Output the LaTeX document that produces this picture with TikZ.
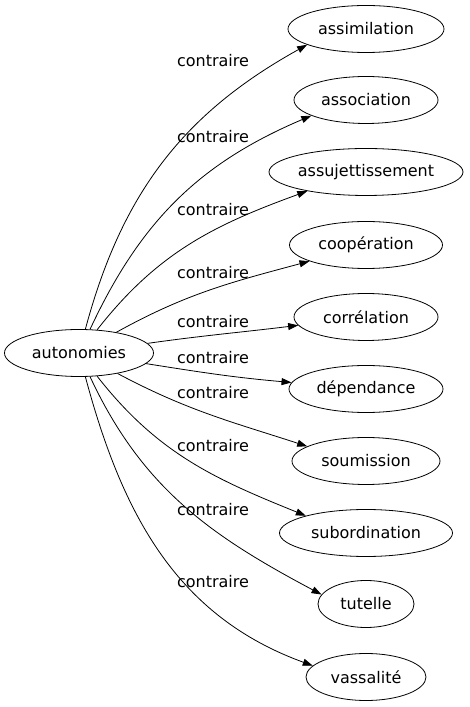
\documentclass[tikz,border=0pt]{standalone}
\usepackage{fontspec}
\setmainfont{DejaVu Sans}
\usetikzlibrary{shapes.geometric,arrows.meta}

\begin{document}
\begin{tikzpicture}
  [x=1pt,y=1pt,
   every node/.style={font=\fontsize{16}{19}\selectfont},
   word/.style={ellipse,draw,line width=0.8pt,inner sep=0pt,minimum height=47pt},
   lbl/.style={inner sep=0pt},
   link/.style={draw,line width=0.8pt,-{Triangle[length=10pt,width=7pt]}}]
  \useasboundingbox (0,0) rectangle (470,707);
  \node[word,minimum width=149pt] (root) at (79,354) {autonomies};
  \foreach \id/\txt/\y/\w in {assim/assimilation/678/156, assoc/association/607/144,
      assuj/assujettissement/535/194, coop/coopération/462/153, correl/corrélation/390/144,
      depend/dépendance/318/154, soum/soumission/246/148, subord/subordination/174/173,
      tut/tutelle/103/96, vass/vassalité/30/120}
    \node[word,minimum width=\w pt] (\id) at (366,\y) {\txt};
  \foreach \id/\o/\i/\e in {assim/75/209/195, assoc/65/203/196, assuj/52/200/198,
      coop/29/195/196, correl/8/187/187, depend/-9/175/175, soum/-28/162/166,
      subord/-52/158/164, tut/-65/152/168, vass/-75/160/168}
    \draw[link] (root) to[out=\o,in=\i] (\id.\e);
  \foreach \n/\y in {1/646, 2/570, 3/497, 4/434, 5/385, 6/349, 7/314, 8/261, 9/197, 10/125}
    \node[lbl] (c\n) at (213,\y) {contraire};
\end{tikzpicture}
\end{document}
